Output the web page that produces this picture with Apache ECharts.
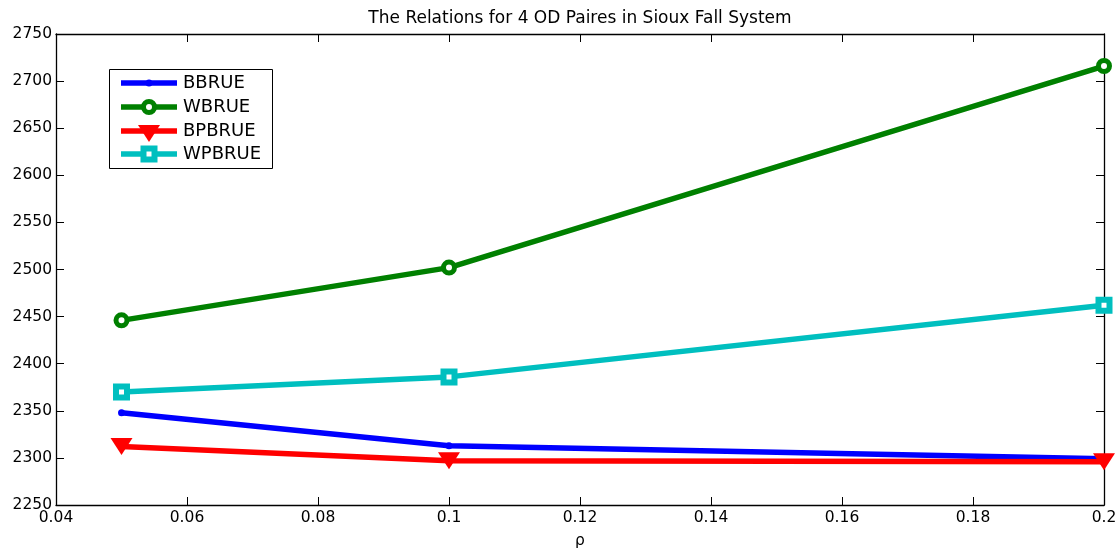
<!DOCTYPE html>
<html>
<head>
<meta charset="utf-8">
<script src="https://cdn.jsdelivr.net/npm/echarts@6/dist/echarts.min.js"></script>
<style>
  html, body { margin: 0; padding: 0; background: #fff; overflow: hidden; }
  #chart { width: 1119px; height: 548px; }
</style>
</head>
<body>
<div id="chart"></div>
<script>
// rho values on the x axis
const rho = [0.05, 0.1, 0.2];
// objective values per model
const bbrue  = [2348, 2313, 2299];
const wbrue  = [2446, 2502, 2716];
const bpbrue = [2312, 2297, 2296];
const wpbrue = [2370, 2386, 2462];
const seriesNames = ['BBRUE', 'WBRUE', 'BPBRUE', 'WPBRUE'];

const FONT = '"DejaVu Sans", sans-serif';
const COLORS = ['#0000ff', '#008000', '#ff0000', '#00bfbf'];
const pairs = (ys) => rho.map((x, i) => [x, ys[i]]);
const fmtX = (v) => String(parseFloat(v.toFixed(2)));

const chart = echarts.init(document.getElementById('chart'), null, { renderer: 'canvas', width: 1119, height: 548 });

const axisLine = { show: true, lineStyle: { color: '#000', width: 1.3 } };
const tickIn = { show: true, inside: true, length: 8, lineStyle: { color: '#000', width: 1 } };

// legend box drawn with graphic elements (thick lines + markers like the plot)
const LEG = { x: 109, y: 69, w: 163, h: 99, rowY: [83, 107, 131, 154], x0: 121, x1: 177, tx: 183 };
function legendMarker(i, cx, cy, color) {
  if (i === 0) return { type: 'circle', shape: { cx, cy, r: 3.5 }, style: { fill: color } };
  if (i === 1) return { type: 'circle', shape: { cx, cy, r: 5.5 }, style: { fill: '#fff', stroke: color, lineWidth: 5 } };
  if (i === 2) return { type: 'polygon', shape: { points: [[cx - 11, cy - 6], [cx + 11, cy - 6], [cx, cy + 11]] }, style: { fill: color } };
  return { type: 'rect', shape: { x: cx - 5.5, y: cy - 5.5, width: 11, height: 11 }, style: { fill: '#fff', stroke: color, lineWidth: 6 } };
}
const legendGraphics = [{
  type: 'rect', shape: { x: LEG.x + 0.5, y: LEG.y + 0.5, width: LEG.w, height: LEG.h },
  style: { fill: '#fff', stroke: '#000', lineWidth: 1 }, z: 100
}];
seriesNames.forEach((name, i) => {
  const y = LEG.rowY[i];
  legendGraphics.push({ type: 'line', shape: { x1: LEG.x0, y1: y, x2: LEG.x1, y2: y }, style: { stroke: COLORS[i], lineWidth: 5.5 }, z: 101 });
  legendGraphics.push(Object.assign(legendMarker(i, (LEG.x0 + LEG.x1) / 2, y, COLORS[i]), { z: 102 }));
  legendGraphics.push({ type: 'text', x: LEG.tx, y: y, style: { text: name, font: '18px ' + FONT, fill: '#000', verticalAlign: 'middle' }, z: 103 });
});

chart.setOption({
  animation: false,
  backgroundColor: '#fff',
  title: {
    text: 'The Relations for 4 OD Paires in Sioux Fall System',
    left: 575, top: 5, textAlign: 'center',
    textStyle: { fontFamily: FONT, fontSize: 17, fontWeight: 'normal', color: '#000' }
  },
  grid: { left: 56, right: 15, top: 34, bottom: 43, containLabel: false, outerBoundsMode: 'none' },
  graphic: legendGraphics,
  xAxis: [{
    type: 'value', min: 0.04, max: 0.2, interval: 0.02,
    name: 'ρ', nameLocation: 'middle', nameGap: 28,
    nameTextStyle: { fontFamily: FONT, fontSize: 15.5, color: '#000' },
    axisLine, axisTick: tickIn,
    axisLabel: { formatter: fmtX, fontFamily: FONT, fontSize: 15.5, color: '#000', margin: 5 },
    splitLine: { show: false }
  }, {
    type: 'value', position: 'top', min: 0.04, max: 0.2, interval: 0.02,
    axisLine, axisTick: tickIn, axisLabel: { show: false }, splitLine: { show: false }
  }],
  yAxis: [{
    type: 'value', min: 2250, max: 2750, interval: 50,
    axisLine, axisTick: tickIn,
    axisLabel: { formatter: (v) => String(v), fontFamily: FONT, fontSize: 15.5, color: '#000', margin: 4 },
    splitLine: { show: false }
  }, {
    type: 'value', position: 'right', min: 2250, max: 2750, interval: 50,
    axisLine, axisTick: tickIn, axisLabel: { show: false }, splitLine: { show: false }
  }],
  series: [
    {
      name: 'BBRUE', type: 'line', data: pairs(bbrue),
      lineStyle: { width: 5.5, color: COLORS[0] },
      symbol: 'circle', symbolSize: 7,
      itemStyle: { color: COLORS[0] }
    },
    {
      name: 'WBRUE', type: 'line', data: pairs(wbrue),
      lineStyle: { width: 5.5, color: COLORS[1] },
      symbol: 'circle', symbolSize: 11,
      itemStyle: { color: '#fff', borderColor: COLORS[1], borderWidth: 5 }
    },
    {
      name: 'BPBRUE', type: 'line', data: pairs(bpbrue),
      lineStyle: { width: 5.5, color: COLORS[2] },
      symbol: 'triangle', symbolRotate: 180, symbolSize: [22, 17],
      itemStyle: { color: COLORS[2] }
    },
    {
      name: 'WPBRUE', type: 'line', data: pairs(wpbrue),
      lineStyle: { width: 5.5, color: COLORS[3] },
      symbol: 'rect', symbolSize: 11,
      itemStyle: { color: '#fff', borderColor: COLORS[3], borderWidth: 6 }
    }
  ]
});
</script>
</body>
</html>
